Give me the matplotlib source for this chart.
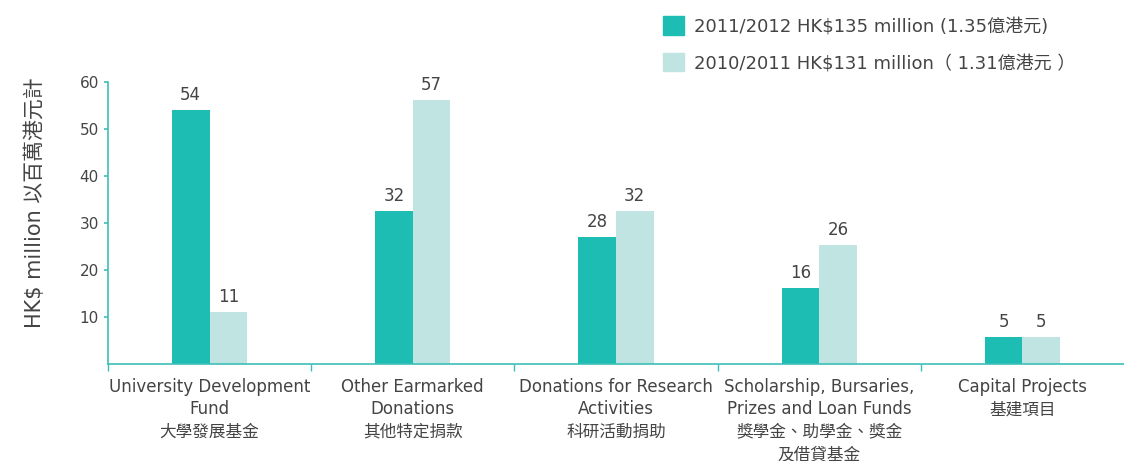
import numpy as np
import matplotlib
matplotlib.use('Agg')
import matplotlib.pyplot as plt
from matplotlib.patches import Patch

plt.rcParams['font.family'] = ['DejaVu Sans', 'Noto Sans CJK TC']

# данные
categories = ['University Development\nFund\n大學發展基金',
              'Other Earmarked\nDonations\n其他特定捐款',
              'Donations for Research\nActivities\n科研活動捐助',
              'Scholarship, Bursaries,\nPrizes and Loan Funds\n獎學金、助學金、獎金\n及借貸基金',
              'Capital Projects\n基建項目']
vals_2012 = [54.1, 32.5, 26.9, 16.2, 5.6]
vals_2011 = [11.1, 56.2, 32.5, 25.2, 5.6]
labels_2012 = ['54', '32', '28', '16', '5']
labels_2011 = ['11', '57', '32', '26', '5']
legend_labels = ['2011/2012 HK$135 million (1.35億港元)',
                 '2010/2011 HK$131 million（ 1.31億港元 ）']
yticks = [10, 20, 30, 40, 50, 60]

dark = '#1dbdb4'
light = '#c0e4e1'
axis_c = '#3dbfb7'
txt = '#444444'

fig = plt.figure(figsize=(11.24, 4.61), dpi=100)
ax = fig.add_axes([0.096, 0.211, 0.904, 0.611])

x = np.arange(len(categories)) + 0.5
w = 0.185
b1 = ax.bar(x - w / 2, vals_2012, w, color=dark)
b2 = ax.bar(x + w / 2, vals_2011, w, color=light)

for rect, lab in zip(b1, labels_2012):
    ax.text(rect.get_x() + rect.get_width() / 2, rect.get_height() + 1.3, lab,
            ha='center', va='bottom', fontsize=12, color=txt)
for rect, lab in zip(b2, labels_2011):
    ax.text(rect.get_x() + rect.get_width() / 2, rect.get_height() + 1.3, lab,
            ha='center', va='bottom', fontsize=12, color=txt)

ax.set_xlim(0, len(categories))
ax.set_ylim(0, 60)
ax.set_yticks(yticks)
ax.tick_params(axis='y', colors=axis_c, labelcolor=txt, labelsize=11,
               length=3, width=1.2)
ax.set_xticks(x)
ax.set_xticklabels(categories, fontsize=12, color=txt, linespacing=1.32)
ax.tick_params(axis='x', length=0, pad=10)
ax.set_xticks(np.arange(len(categories)), minor=True)
ax.tick_params(axis='x', which='minor', length=5, color=axis_c, width=1)

for s in ['top', 'right']:
    ax.spines[s].set_visible(False)
for s in ['left', 'bottom']:
    ax.spines[s].set_color(axis_c)
    ax.spines[s].set_linewidth(1.2)

ax.set_ylabel('HK$ million 以百萬港元計', fontsize=15, color=txt)
ax.yaxis.set_label_coords(-0.062, 0.57)

handles = [Patch(color=dark), Patch(color=light)]
fig.legend(handles, legend_labels, loc='upper left',
           bbox_to_anchor=(0.575, 1.0), frameon=False, fontsize=13,
           labelcolor=txt, handlelength=1.2, handleheight=1.2,
           handletextpad=0.55, labelspacing=0.95)

fig.savefig('out.png', dpi=100)
